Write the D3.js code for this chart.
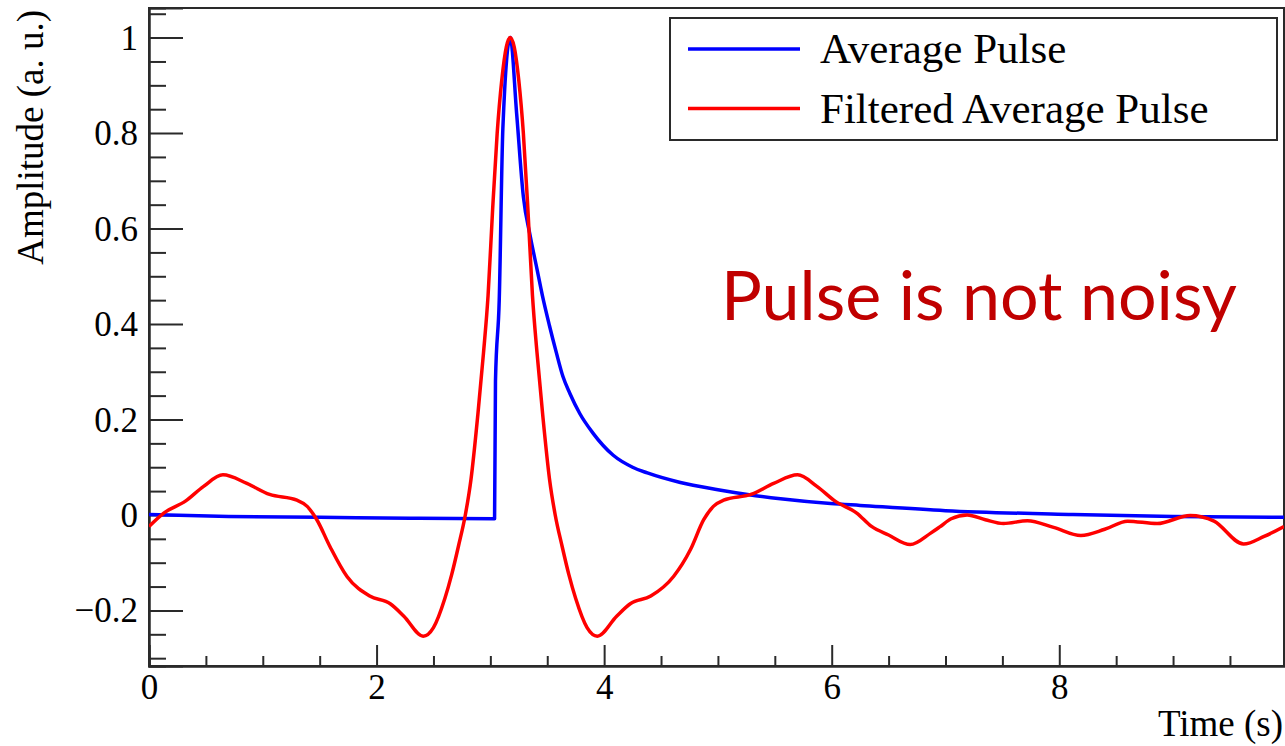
<!DOCTYPE html>
<html>
<head>
<meta charset="utf-8">
<script src="https://cdn.jsdelivr.net/npm/d3@7"></script>
<style>
  html, body { margin: 0; padding: 0; background: #fff; }
  svg { display: block; }
</style>
</head>
<body>
<svg id="chart" width="1285" height="746"></svg>
<script>
// Average pulse (time in s, amplitude in a.u.)
const averagePulse = [
  [0.00, 0.001], [0.70, -0.003], [1.50, -0.005], [2.30, -0.007], [3.037, -0.008],
  [3.045, 0.280], [3.078, 0.450], [3.110, 0.810], [3.175, 1.000], [3.231, 0.841],
  [3.290, 0.667], [3.350, 0.585], [3.410, 0.515], [3.457, 0.460], [3.518, 0.398],
  [3.580, 0.340], [3.638, 0.290], [3.700, 0.254], [3.787, 0.212], [3.900, 0.172],
  [4.080, 0.125], [4.250, 0.100], [4.380, 0.088], [4.670, 0.068], [5.000, 0.053],
  [5.260, 0.043], [5.550, 0.034], [5.990, 0.024], [6.250, 0.020], [7.000, 0.009],
  [8.120, 0.001], [9.000, -0.003], [9.975, -0.005]
];

// Same pulse after the filter
const filteredPulse = [
  [0.00, -0.024], [0.13, 0.004], [0.32, 0.029], [0.48, 0.060], [0.65, 0.084],
  [0.86, 0.066], [1.06, 0.043], [1.30, 0.031], [1.39, 0.018], [1.475, -0.010],
  [1.59, -0.066], [1.74, -0.129], [1.94, -0.170], [2.12, -0.186], [2.24, -0.212],
  [2.41, -0.254], [2.50, -0.236], [2.60, -0.175], [2.66, -0.125], [2.72, -0.065],
  [2.78, 0.000], [2.83, 0.075], [2.89, 0.210], [2.94, 0.340], [2.98, 0.460],
  [3.02, 0.640], [3.06, 0.800], [3.10, 0.910], [3.14, 0.980], [3.175, 1.000],
  [3.21, 0.980], [3.25, 0.910], [3.29, 0.800], [3.33, 0.640], [3.37, 0.460],
  [3.41, 0.340], [3.46, 0.210], [3.52, 0.075], [3.57, 0.000], [3.63, -0.065],
  [3.69, -0.125], [3.75, -0.175], [3.85, -0.236], [3.94, -0.254], [4.11, -0.212],
  [4.23, -0.186], [4.41, -0.170], [4.61, -0.129], [4.76, -0.072], [4.875, -0.010],
  [4.96, 0.018], [5.05, 0.031], [5.29, 0.043], [5.49, 0.066], [5.70, 0.084],
  [5.87, 0.060], [6.03, 0.029], [6.22, 0.004], [6.35, -0.024], [6.50, -0.042],
  [6.69, -0.062], [6.87, -0.038], [6.95, -0.025], [7.05, -0.008], [7.19, 0.000],
  [7.35, -0.010], [7.51, -0.018], [7.72, -0.012], [7.95, -0.026], [8.19, -0.043],
  [8.40, -0.030], [8.60, -0.013], [8.86, -0.018], [9.15, -0.001], [9.36, -0.013],
  [9.62, -0.061], [9.80, -0.045], [9.975, -0.024]
];

const xMajorTicks = [0, 2, 4, 6, 8];
const yMajorTicks = [-0.2, 0, 0.2, 0.4, 0.6, 0.8, 1];
const seriesNames = ["Average Pulse", "Filtered Average Pulse"];
const seriesColors = ["#0000ff", "#ff0000"];
const annotationText = "Pulse is not noisy";

const svg = d3.select("#chart");
const frame = { left: 149, right: 1284, top: 8, bottom: 666 };

const x = d3.scaleLinear().domain([0, 9.975]).range([frame.left, frame.right]);
const y = d3.scaleLinear().domain([-0.3164, 1.062]).range([frame.bottom, frame.top]);

const serif = "'Liberation Serif', 'Times New Roman', serif";

svg.append("rect").attr("width", 1285).attr("height", 746).attr("fill", "#fff");

svg.append("defs").append("clipPath").attr("id", "plotClip")
  .append("rect")
  .attr("x", frame.left).attr("y", frame.top)
  .attr("width", frame.right - frame.left).attr("height", frame.bottom - frame.top);

// frame
svg.append("rect")
  .attr("x", frame.left).attr("y", frame.top)
  .attr("width", frame.right - frame.left).attr("height", frame.bottom - frame.top)
  .attr("fill", "none").attr("stroke", "#2a2a2a").attr("stroke-width", 2);

// x axis: major + minor ticks pointing into the frame
const xMinor = d3.range(0.5, 10, 0.5).filter(v => v % 2 !== 0 && v <= 9.975);
const xMinorAxis = svg.append("g")
  .attr("transform", `translate(0,${frame.bottom})`)
  .call(d3.axisBottom(x).tickValues(xMinor).tickSize(-10).tickFormat(""));
const xAxis = svg.append("g")
  .attr("transform", `translate(0,${frame.bottom})`)
  .call(d3.axisBottom(x).tickValues(xMajorTicks).tickSize(-21).tickPadding(8)
    .tickFormat(d3.format("d")));

// y axis
const yMinor = d3.range(-6, 22).map(i => i * 0.05).filter(v => Math.abs(v * 5 - Math.round(v * 5)) > 1e-6);
const yMinorAxis = svg.append("g")
  .attr("transform", `translate(${frame.left},0)`)
  .call(d3.axisLeft(y).tickValues(yMinor).tickSize(-17).tickFormat(""));
const yAxis = svg.append("g")
  .attr("transform", `translate(${frame.left},0)`)
  .call(d3.axisLeft(y).tickValues(yMajorTicks).tickSize(-34).tickPadding(11)
    .tickFormat(d => d === 0 ? "0" : d3.format("")(d)));

[xMinorAxis, xAxis, yMinorAxis, yAxis].forEach(g => {
  g.select(".domain").attr("stroke", "#2a2a2a").attr("stroke-width", 2);
  g.selectAll(".tick line").attr("stroke", "#2a2a2a").attr("stroke-width", 2);
  g.selectAll(".tick text")
    .attr("font-family", serif).attr("font-size", 35).attr("fill", "#000");
});
yAxis.selectAll(".tick text").attr("dy", "0.33em");

// axis titles
svg.append("text")
  .attr("transform", `translate(43,10) rotate(-90)`)
  .attr("text-anchor", "end")
  .attr("font-family", serif).attr("font-size", 37)
  .text("Amplitude (a. u.)");

svg.append("text")
  .attr("x", 1283).attr("y", 736)
  .attr("text-anchor", "end")
  .attr("font-family", serif).attr("font-size", 37)
  .text("Time (s)");

// curves
const line = d3.line()
  .x(d => x(d[0])).y(d => y(d[1]))
  .curve(d3.curveMonotoneX);

const plot = svg.append("g").attr("clip-path", "url(#plotClip)");
[averagePulse, filteredPulse].forEach((data, i) => {
  plot.append("path")
    .datum(data)
    .attr("d", line)
    .attr("fill", "none")
    .attr("stroke", seriesColors[i])
    .attr("stroke-width", 3.5)
    .attr("stroke-linejoin", "round");
});

// legend
const legend = svg.append("g");
legend.append("rect")
  .attr("x", 670).attr("y", 18).attr("width", 607).attr("height", 122)
  .attr("fill", "#fff").attr("stroke", "#2a2a2a").attr("stroke-width", 2);
seriesNames.forEach((name, i) => {
  const cy = 49 + i * 59.5;
  legend.append("line")
    .attr("x1", 688).attr("x2", 800).attr("y1", cy).attr("y2", cy)
    .attr("stroke", seriesColors[i]).attr("stroke-width", 3.5);
  legend.append("text")
    .attr("x", 820).attr("y", cy + 14)
    .attr("font-family", serif).attr("font-size", 43)
    .text(name);
});

// annotation
svg.append("text")
  .attr("x", 721).attr("y", 320)
  .attr("font-family", "Lato, 'Open Sans', sans-serif")
  .attr("font-size", 67)
  .attr("fill", "#c00000")
  .attr("textLength", 516)
  .attr("lengthAdjust", "spacingAndGlyphs")
  .text(annotationText);
</script>
</body>
</html>
